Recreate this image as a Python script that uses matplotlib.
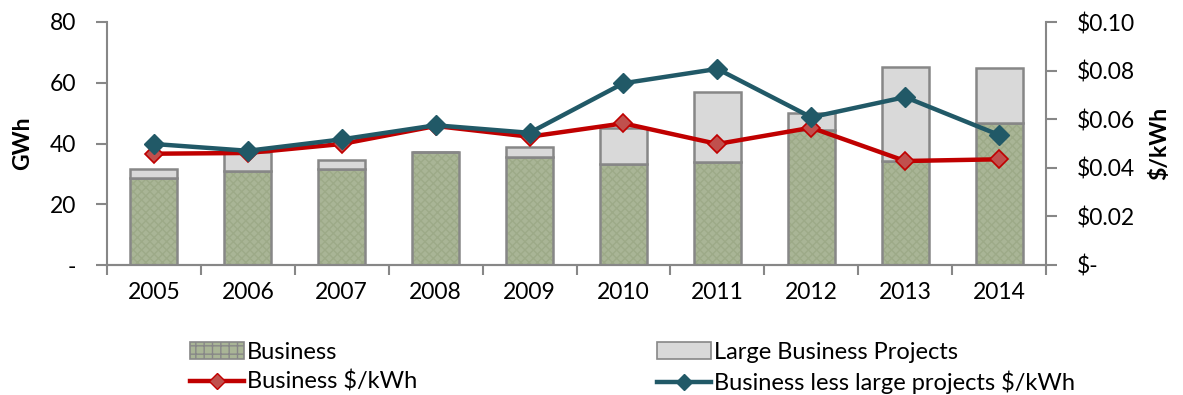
import matplotlib
matplotlib.use("Agg")
import matplotlib.pyplot as plt
from matplotlib.patches import Patch
from matplotlib.lines import Line2D
import numpy as np

years = ["2005", "2006", "2007", "2008", "2009", "2010", "2011", "2012", "2013", "2014"]
business_gwh = [28.6, 30.9, 31.6, 37.3, 35.6, 33.3, 33.9, 44.4, 34.3, 46.8]
large_projects_gwh = [3.0, 6.3, 3.0, 0.0, 3.2, 11.7, 22.9, 5.7, 30.8, 18.1]
business_price = [0.0458, 0.0461, 0.0498, 0.0572, 0.0528, 0.0583, 0.0498, 0.0565, 0.0428, 0.0435]
business_less_price = [0.0498, 0.0470, 0.0517, 0.0575, 0.0544, 0.0748, 0.0807, 0.0608, 0.0691, 0.0535]
left_ticks = [0, 20, 40, 60, 80]
left_ticklabels = ["-", "20", "40", "60", "80"]
right_ticks = [0, 0.02, 0.04, 0.06, 0.08, 0.10]
right_ticklabels = ["$-", "$0.02", "$0.04", "$0.06", "$0.08", "$0.10"]

plt.rcParams['font.family'] = ['Lato', 'DejaVu Sans']
FS = 16.5
LFS = 17
GREEN = '#A9B596'
HATCH_C = '#9DAA88'
GRAY_FILL = '#D9D9D9'
EDGE = '#878787'
RED = '#C00000'
RED_M = '#C0504D'
TEAL = '#215967'

fig = plt.figure(figsize=(11.83, 3.95), dpi=100)
ax = fig.add_axes([107/1183, 130/395, (1046-107)/1183, (265-22)/395])
ax2 = ax.twinx()

x = np.arange(len(years))
w = 0.5
# Business bars: hatched fill, then outline
ax.bar(x, business_gwh, w, color=GREEN, edgecolor=HATCH_C, hatch='xxxx', linewidth=0, zorder=2)
ax.bar(x, business_gwh, w, facecolor='none', edgecolor=EDGE, linewidth=1.8, zorder=3)
ax.bar(x, large_projects_gwh, w, bottom=business_gwh, color=GRAY_FILL, edgecolor=EDGE, linewidth=1.8, zorder=3)

ax.set_xlim(-0.5, len(years) - 0.5)
ax.set_ylim(0, 80)
ax.set_yticks(left_ticks)
ax.set_yticklabels(left_ticklabels, fontsize=FS)
ax.set_xticks(x)
ax.set_xticklabels(years, fontsize=FS)
ax.tick_params(axis='x', which='major', length=0, pad=12)
ax.set_xticks(np.arange(-0.5, len(years)), minor=True)
ax.tick_params(axis='x', which='minor', length=7, width=1.5, color=EDGE, direction='out')
ax.tick_params(axis='y', length=8, width=1.5, color=EDGE, direction='out', pad=14)
ax.set_ylabel("GWh", fontsize=FS, fontweight='bold', labelpad=12)

ax2.plot(x, business_price, color=RED, linewidth=3.2, marker='D', markersize=9.5,
         markerfacecolor=RED_M, markeredgecolor=RED, markeredgewidth=1.2, zorder=5)
ax2.plot(x, business_less_price, color=TEAL, linewidth=3.2, marker='D', markersize=10,
         markerfacecolor=TEAL, markeredgecolor=TEAL, zorder=6)
ax2.set_ylim(0, 0.10)
ax2.set_yticks(right_ticks)
ax2.set_yticklabels(right_ticklabels, fontsize=FS)
ax2.tick_params(axis='y', length=8, width=1.5, color=EDGE, direction='out', pad=14)
ax2.set_ylabel("$/kWh", fontsize=FS, fontweight='bold', labelpad=10)

for a in (ax, ax2):
    a.spines['top'].set_visible(False)
    for s in ('left', 'right', 'bottom'):
        a.spines[s].set_color(EDGE)
        a.spines[s].set_linewidth(1.5)
ax2.spines['left'].set_visible(False)
ax.spines['right'].set_visible(False)
ax.set_zorder(1)
ax2.set_zorder(2)
ax2.patch.set_visible(False)

h_bus = Patch(facecolor=GREEN, edgecolor=EDGE, hatch='++', linewidth=1.2)
h_red = Line2D([0], [0], color=RED, linewidth=3.2, marker='D', markersize=8,
               markerfacecolor=RED_M, markeredgecolor=RED)
h_large = Patch(facecolor=GRAY_FILL, edgecolor=EDGE, linewidth=1.2)
h_teal = Line2D([0], [0], color=TEAL, linewidth=3.2, marker='D', markersize=8,
                markerfacecolor=TEAL, markeredgecolor=TEAL)

legkw = dict(loc='upper left', frameon=False, fontsize=LFS, handlelength=2.3,
             handletextpad=0.12, labelspacing=0.33, borderpad=0, borderaxespad=0)
leg1 = fig.legend([h_bus, h_red], ["Business", "Business $/kWh"],
                  bbox_to_anchor=(190/1183, 1 - 342/395), **legkw)
leg2 = fig.legend([h_large, h_teal], ["Large Business Projects", "Business less large projects $/kWh"],
                  bbox_to_anchor=(657/1183, 1 - 342/395), **legkw)

fig.savefig("out.png", dpi=100)
